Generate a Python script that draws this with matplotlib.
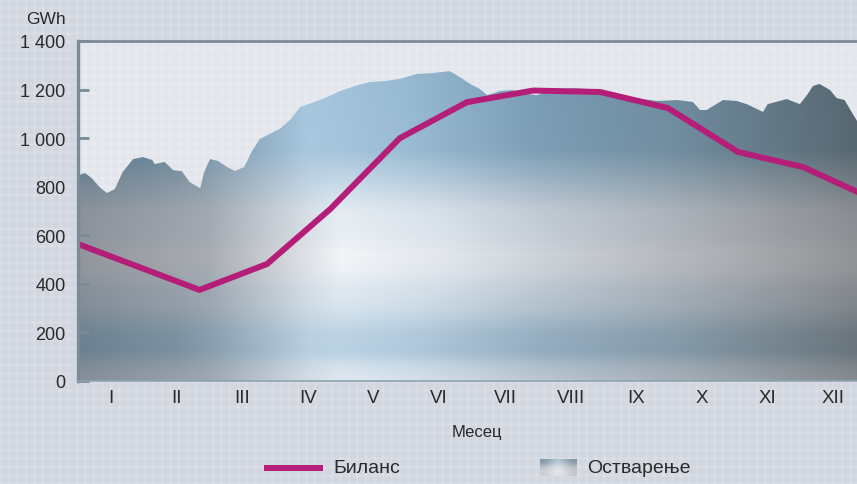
import numpy as np
import matplotlib.pyplot as plt
from matplotlib.lines import Line2D
from matplotlib.ticker import FuncFormatter

plt.rcParams['font.family'] = ['Liberation Sans', 'DejaVu Sans']

months = ['I', 'II', 'III', 'IV', 'V', 'VI', 'VII', 'VIII', 'IX', 'X', 'XI', 'XII']

# Биланс (monthly plan), x in month units
bilans_x = [0.0, 1.85, 2.88, 3.84, 4.90, 5.92, 6.93, 7.95, 8.98, 10.05, 11.04, 12.0]
bilans_y = [564, 375, 482, 708, 1000, 1148, 1196, 1190, 1124, 943, 881, 762]

# Остварење (daily realisation profile)
ostv_x = [0.0, 0.05, 0.11, 0.21, 0.33, 0.44, 0.56, 0.68, 0.84, 0.99, 1.13, 1.17,
          1.32, 1.45, 1.58, 1.70, 1.86, 1.92, 2.01, 2.13, 2.27, 2.39, 2.53, 2.65,
          2.77, 2.92, 3.07, 3.23, 3.38, 3.56, 3.76, 3.99, 4.22, 4.44, 4.67, 4.90,
          5.16, 5.39, 5.66, 5.81, 5.97, 6.12, 6.23, 6.42, 6.62, 6.83, 6.99, 7.14,
          7.53, 7.79, 8.10, 8.48, 8.81, 9.12, 9.36, 9.47, 9.57, 9.82, 10.03, 10.18,
          10.43, 10.50, 10.79, 10.99, 11.10, 11.19, 11.29, 11.45, 11.55, 11.67, 11.86]
ostv_y = [844, 852, 856, 835, 798, 774, 790, 860, 914, 922, 910, 893,
          902, 868, 864, 819, 794, 860, 914, 906, 881, 865, 881, 947,
          997, 1017, 1038, 1075, 1128, 1145, 1165, 1194, 1215, 1231, 1235, 1244,
          1264, 1268, 1276, 1252, 1223, 1202, 1177, 1194, 1198, 1182, 1177, 1190,
          1206, 1202, 1180, 1165, 1153, 1157, 1149, 1116, 1116, 1157, 1153, 1140,
          1108, 1140, 1161, 1140, 1178, 1215, 1223, 1198, 1165, 1157, 1071]

W, H = 857, 485
fig = plt.figure(figsize=(W / 100, H / 100), dpi=100)

# textured background (light grid pattern)
ii = np.arange(H)[:, None]
jj = np.arange(W)[None, :]
gi = (0.5 + 0.5 * np.cos(2 * np.pi * ii / 8.5)) ** 4
gj = (0.5 + 0.5 * np.cos(2 * np.pi * jj / 8.5)) ** 4
base = np.array([210, 214, 223]) / 255
pat = base[None, None, :] + (0.045 * (gi + gj) / 2)[:, :, None]
bg = fig.add_axes([0, 0, 1, 1], zorder=-10)
bg.imshow(np.clip(pat, 0, 1), aspect='auto', extent=[0, 1, 0, 1])
bg.axis('off')

ax = fig.add_axes([78 / W, 103 / H, 779 / W, 340 / H])
ax.set_facecolor((1, 1, 1, 0.4))
xmax = 11.86
ax.set_xlim(0, xmax)
ax.set_ylim(0, 1400)

# gradient texture for the realisation area
nx, ny = 400, 300
xs = np.linspace(0, xmax, nx)
vs = np.linspace(0, 1300, ny)
top_k = [0, 1.5, 3.5, 5, 7, 9, xmax]
top_c = np.array([[88, 118, 138], [105, 135, 155], [165, 198, 222], [150, 185, 210],
                  [120, 155, 180], [110, 140, 160], [85, 102, 112]]) / 255
mist_k = [0, 2, 4, 5.5, 7.5, 10, xmax]
mist_c = np.array([[150, 152, 158], [172, 174, 180], [246, 247, 249], [232, 235, 240],
                   [205, 208, 214], [175, 176, 180], [150, 150, 154]]) / 255
T = np.stack([np.interp(xs, top_k, top_c[:, c]) for c in range(3)], axis=-1)
G = np.stack([np.interp(xs, mist_k, mist_c[:, c]) for c in range(3)], axis=-1)
wv_k = [0, 60, 120, 200, 300, 380, 450, 520, 600, 700, 800, 950, 1300]
wv_w = [0.75, 0.6, 0.3, 0.35, 0.65, 0.75, 0.9, 0.95, 0.85, 0.8, 0.5, 0.05, 0.0]
w = np.interp(vs, wv_k, wv_w)[:, None, None]
img = T[None, :, :] * (1 - w) + G[None, :, :] * w
im = ax.imshow(img, origin='lower', aspect='auto', extent=[0, xmax, 0, 1300],
               interpolation='bicubic', zorder=1)
area = ax.fill_between(ostv_x, ostv_y, 0, facecolor='none', edgecolor='none')
im.set_clip_path(area.get_paths()[0], transform=ax.transData)

magenta = '#b41e78'
ax.plot(bilans_x, bilans_y, color=magenta, lw=4.3, solid_joinstyle='miter',
        zorder=3, clip_on=True)

ax.spines['right'].set_visible(False)
ax.spines['left'].set_color('#7a8b97')
ax.spines['left'].set_linewidth(2.5)
ax.spines['top'].set_color('#7a8b97')
ax.spines['top'].set_linewidth(2)
ax.spines['bottom'].set_color('#8ea3b3')
ax.spines['bottom'].set_linewidth(1.2)
for s in ax.spines.values():
    s.set_zorder(4)

ax.set_yticks(range(0, 1401, 200))
ax.yaxis.set_major_formatter(FuncFormatter(lambda v, p: f'{int(v):,}'.replace(',', ' ')))
ax.tick_params(axis='y', direction='in', length=8, width=2, color='#7a8b97',
               labelsize=13, labelcolor='#2a2a2a', pad=9)
ax.set_xticks(np.arange(12) + 0.5)
ax.set_xticklabels(months)
ax.tick_params(axis='x', length=0, labelsize=13.5, labelcolor='#2a2a2a', pad=6)

fig.text(66 / W, 1 - 20 / H, 'GWh', ha='right', va='center', fontsize=12.5, color='#2a2a2a')
fig.text(477 / W, 1 - 432 / H, 'Месец', ha='center', va='center', fontsize=12, color='#2a2a2a')

# legend
ly = 1 - 469 / H
fig.add_artist(Line2D([267 / W, 320 / W], [ly, ly], color=magenta, lw=4.3,
                      transform=fig.transFigure))
fig.text(333 / W, ly, 'Биланс', ha='left', va='center', fontsize=14, color='#2a2a2a')
lax = fig.add_axes([540 / W, 8 / H, 37 / W, 17 / H])
leg_img = np.array([[[120, 145, 160], [200, 215, 228], [125, 145, 158]],
                    [[195, 200, 206], [246, 247, 250], [190, 195, 200]],
                    [[200, 205, 210], [235, 238, 242], [195, 198, 204]]]) / 255
lax.imshow(leg_img, aspect='auto', interpolation='bicubic')
lax.axis('off')
fig.text(587 / W, ly, 'Остварење', ha='left', va='center', fontsize=14, color='#2a2a2a')

fig.savefig('out.png', dpi=100)
